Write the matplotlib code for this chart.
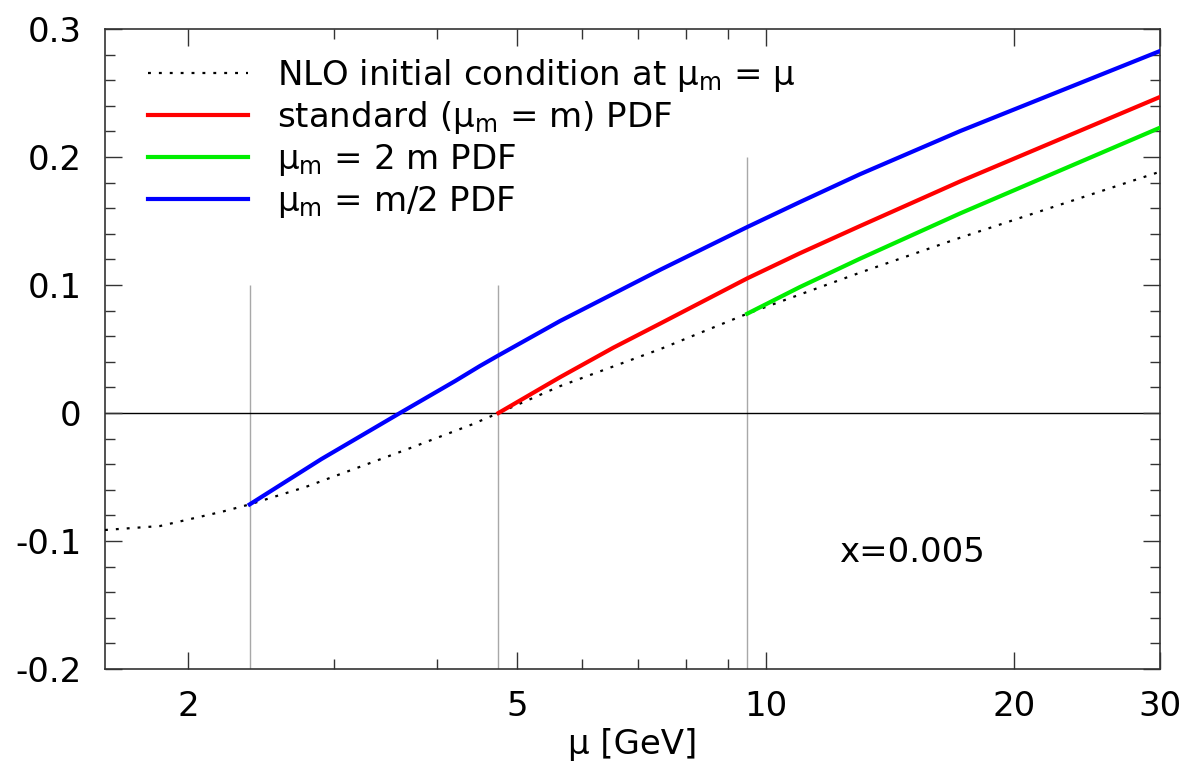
import matplotlib
matplotlib.use("Agg")
import matplotlib.pyplot as plt
from matplotlib.ticker import FixedLocator, FixedFormatter, MultipleLocator, NullFormatter

plt.rcParams['font.family'] = ['DejaVu Sans']
plt.rcParams['mathtext.fontset'] = 'dejavusans'

# ---- data ----
mu_nlo = [1.587, 1.85, 2.02, 2.20, 2.375, 2.77, 3.66, 4.41, 4.75, 5.64, 7.46, 9.5, 13.0, 17.2, 30.0]
nlo = [-0.0914, -0.0883, -0.0826, -0.0771, -0.0714, -0.058, -0.029, -0.009, 0.0, 0.021, 0.050, 0.0776, 0.1096, 0.137, 0.1885]

mu_std = [4.75, 5.64, 6.54, 7.46, 9.5, 11.0, 13.0, 17.2, 30.0]
pdf_std = [0.0, 0.028, 0.051, 0.070, 0.1052, 0.1248, 0.146, 0.181, 0.2469]

mu_2m = [9.5, 11.0, 13.0, 17.2, 30.0]
pdf_2m = [0.0776, 0.0984, 0.1205, 0.156, 0.2229]

mu_half = [2.375, 2.90, 3.61, 4.21, 4.51, 4.75, 5.64, 7.46, 9.5, 11.0, 13.0, 17.2, 30.0]
pdf_half = [-0.0714, -0.036, 0.0, 0.025, 0.0367, 0.045, 0.0719, 0.112, 0.1453, 0.1648, 0.1865, 0.2203, 0.2828]

thresholds = [2.375, 4.75, 9.5]
threshold_tops = [0.1, 0.1, 0.2]

labels = [r'NLO initial condition at $\mathrm{μ}_\mathrm{m}$ = μ',
          r'standard ($\mathrm{μ}_\mathrm{m}$ = m) PDF',
          r'$\mathrm{μ}_\mathrm{m}$ = 2 m PDF',
          r'$\mathrm{μ}_\mathrm{m}$ = m/2 PDF']

xmajor = [2, 5, 10, 20, 30]
xmajor_labels = ['2', '5', '10', '20', '30']
xminor = [3, 4, 6, 7, 8, 9]
ymajor = [-0.2, -0.1, 0.0, 0.1, 0.2, 0.3]
ymajor_labels = ['-0.2', '-0.1', '0', '0.1', '0.2', '0.3']
annotation = 'x=0.005'

FS = 24.5

# ---- figure ----
fig = plt.figure(figsize=(11.84, 7.67), dpi=100)
ax = fig.add_axes([105/1184, 1-669/767, (1160-105)/1184, (669-29)/767])
ax.set_xscale('log')
ax.set_xlim(1.587, 30)
ax.set_ylim(-0.2, 0.3)

ax.vlines(thresholds, -0.2, threshold_tops, colors='#a8a8a8', lw=1.0, zorder=1)
ax.axhline(0, color='black', lw=1.0, zorder=1)

ax.plot(mu_nlo, nlo, color='black', lw=1.6, linestyle=(0, (1.3, 3.6)), label=labels[0], zorder=3)
ax.plot(mu_std, pdf_std, color='#ff0000', lw=3.0, label=labels[1], zorder=4)
ax.plot(mu_2m, pdf_2m, color='#00ee00', lw=3.0, label=labels[2], zorder=4)
ax.plot(mu_half, pdf_half, color='#0000ff', lw=3.0, label=labels[3], zorder=4)

ax.text(12.25, -0.109, annotation, fontsize=FS, ha='left', va='center')

ax.xaxis.set_major_locator(FixedLocator(xmajor))
ax.xaxis.set_major_formatter(FixedFormatter(xmajor_labels))
ax.xaxis.set_minor_locator(FixedLocator(xminor))
ax.xaxis.set_minor_formatter(NullFormatter())
ax.yaxis.set_major_locator(FixedLocator(ymajor))
ax.yaxis.set_major_formatter(FixedFormatter(ymajor_labels))
ax.yaxis.set_minor_locator(MultipleLocator(0.02))

ax.tick_params(which='both', direction='in', top=True, right=True, color='#333333', width=1.0)
ax.tick_params(which='major', length=12, labelsize=FS)
ax.tick_params(axis='y', which='major', pad=17)
ax.tick_params(axis='x', which='major', pad=15)
ax.tick_params(which='minor', length=7)
for s in ax.spines.values():
    s.set_color('#333333')
    s.set_linewidth(1.2)

ax.set_xlabel('μ [GeV]', fontsize=FS, labelpad=4)

leg = ax.legend(loc='upper left', bbox_to_anchor=(0.0408, 0.957), frameon=False,
                fontsize=FS, handlelength=2.94, handletextpad=0.85, labelspacing=0.17,
                borderpad=0, borderaxespad=0)

fig.savefig('out.png', dpi=100)
